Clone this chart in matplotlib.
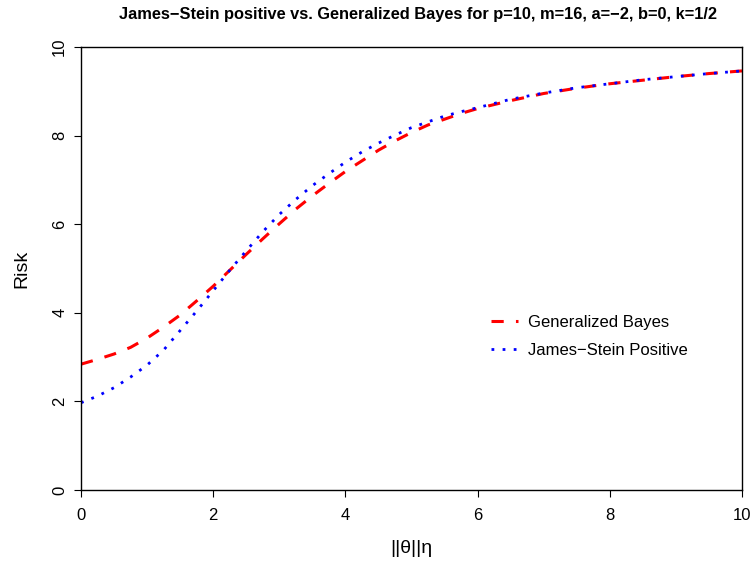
import matplotlib
matplotlib.use("Agg")
import matplotlib.pyplot as plt

plt.rcParams["font.family"] = ["Liberation Sans", "DejaVu Sans"]

# risk
theta = [0, 0.25, 0.5, 0.75, 1.0, 1.25, 1.5, 1.75, 2.0, 2.25, 2.5, 2.75,
         3.0, 3.25, 3.5, 3.75, 4.0, 4.25, 4.5, 4.75, 5.0, 5.25, 5.5, 5.75,
         6.0, 6.5, 7.0, 7.5, 8.0, 8.5, 9.0, 9.5, 10.0]
risk_gb = [2.84, 2.95, 3.07, 3.22, 3.43, 3.68, 3.95, 4.27, 4.60, 4.96, 5.32, 5.67,
           6.01, 6.34, 6.64, 6.92, 7.19, 7.43, 7.67, 7.88, 8.07, 8.24, 8.37, 8.50,
           8.61, 8.79, 8.95, 9.07, 9.17, 9.25, 9.33, 9.40, 9.46]
risk_js = [1.97, 2.12, 2.31, 2.55, 2.82, 3.16, 3.60, 4.04, 4.50, 4.96, 5.40, 5.83,
           6.22, 6.56, 6.87, 7.14, 7.40, 7.63, 7.83, 8.01, 8.18, 8.31, 8.44, 8.54,
           8.63, 8.82, 8.96, 9.08, 9.17, 9.26, 9.33, 9.40, 9.46]

fig = plt.figure(figsize=(7.51, 5.64), dpi=100)
ax = fig.add_axes([0.1079, 0.1312, 0.8801, 0.7855])

ax.plot(theta, risk_gb, color="red", lw=2.2, dashes=(4, 4), label="Generalized Bayes")
ax.plot(theta, risk_js, color="blue", lw=2.0, dashes=(1, 3), label="James\u2212Stein Positive")

ax.set_xlim(0, 10)
ax.set_ylim(0, 10)
ax.set_xticks([0, 2, 4, 6, 8, 10])
ax.set_yticks([0, 2, 4, 6, 8, 10])
ax.tick_params(length=5, width=0.8, labelsize=12)
ax.tick_params(axis="x", pad=8)
ax.tick_params(axis="y", pad=5)
for lab in ax.get_yticklabels():
    lab.set_rotation(90)
    lab.set_va("center")
for sp in ax.spines.values():
    sp.set_linewidth(1.0)

ax.set_xlabel("||\u03b8||\u03b7", fontsize=14, labelpad=12)
ax.set_ylabel("Risk", fontsize=14, labelpad=16)
ax.set_title("James\u2212Stein positive vs. Generalized Bayes for p=10, m=16, a=\u22122, b=0, k=1/2",
             fontsize=11.8, fontweight="bold", pad=20, x=0.51)

ax.legend(loc="upper left", bbox_to_anchor=(0.598, 0.43), frameon=False, fontsize=12,
          handlelength=1.6, handletextpad=0.6, labelspacing=0.78)

fig.savefig("out.png", dpi=100)
